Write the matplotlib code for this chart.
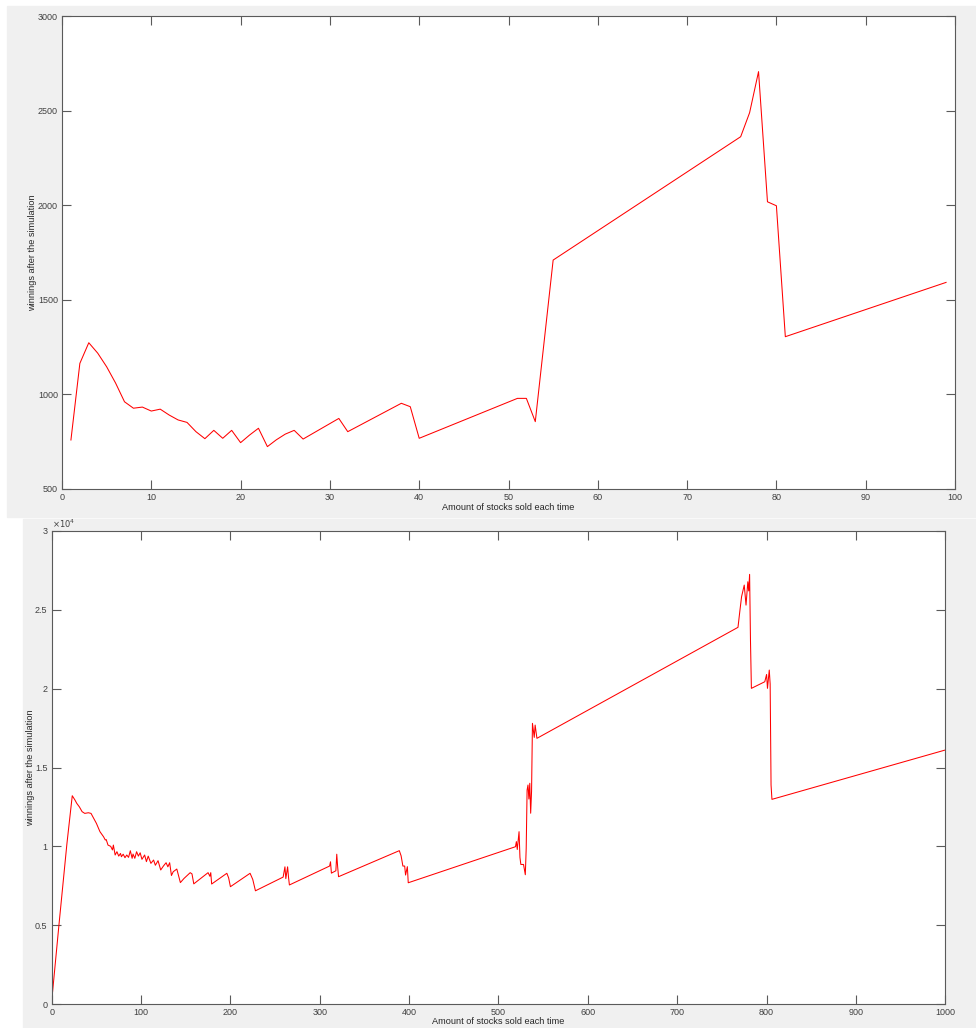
import matplotlib
matplotlib.use("Agg")
import matplotlib.pyplot as plt
from matplotlib.patches import Rectangle
from matplotlib.ticker import FuncFormatter

plt.rcParams['font.family'] = ['Liberation Sans', 'DejaVu Sans']

# winnings for 1..99 stocks sold each time (run 1)
sold_small = [1, 2, 3, 4, 5, 6, 7, 8, 9, 10, 11, 12, 13, 14, 15, 16, 17, 18, 19, 20,
              21, 22, 23, 24, 25, 26, 27, 31, 32, 38, 39, 40, 51, 52, 53, 55,
              76, 77, 78, 79, 80, 81, 99]
win_small = [759, 1164, 1273, 1218, 1146, 1060, 961, 927, 933, 912, 922, 891, 865, 852,
             803, 766, 810, 768, 810, 745, 785, 821, 724, 760, 790, 810, 764, 873, 803,
             953, 935, 768, 979, 979, 856, 1710, 2362, 2489, 2706, 2018, 1997, 1305, 1592]

# winnings for 1..1000 stocks sold each time (run 2)
sold_big = [1, 8, 17, 23, 26, 28, 31, 34, 37, 41, 44, 48, 50, 54, 58, 60, 61, 63, 66, 68,
            69, 71, 73, 75, 77, 78, 80, 82, 84, 86, 88, 90, 91, 93, 95, 97, 99, 101, 104,
            106, 108, 111, 114, 116, 119, 122, 125, 128, 130, 132, 134, 136, 140, 144,
            148, 155, 157, 159, 175, 177, 178, 179, 196, 198, 200, 222, 225, 228, 259,
            261, 262, 264, 265, 266, 311, 312, 313, 318, 319, 320, 321, 389, 391, 393,
            395, 396, 398, 399, 519, 520, 521, 523, 524, 525, 528, 530, 531, 532, 533,
            534, 535, 536, 537, 538, 540, 541, 543, 768, 770, 772, 775, 777, 779, 780,
            781, 782, 783, 798, 800, 801, 803, 804, 805, 806, 1000]
win_big = [780, 4950, 10150, 13210, 12940, 12730, 12500, 12200, 12090, 12130, 12090,
           11670, 11460, 10930, 10610, 10400, 10430, 10080, 10000, 9770, 10080, 9450,
           9660, 9380, 9550, 9340, 9500, 9280, 9450, 9300, 9720, 9240, 9510, 9240, 9660,
           9380, 9590, 9175, 9450, 9030, 9380, 8920, 9130, 8800, 9090, 8500, 8750, 8960,
           8700, 8960, 8150, 8390, 8560, 7700, 7960, 8330, 8250, 7620, 8330, 8100, 8330,
           7610, 8290, 8000, 7440, 8290, 7900, 7180, 8050, 8700, 7950, 8700, 8050, 7550,
           8750, 9020, 8300, 8450, 9500, 8700, 8075, 9725, 9400, 8750, 8750, 8180, 8710,
           7690, 9976, 10300, 9800, 10930, 9300, 8850, 8850, 8200, 9870, 13570, 13890,
           13000, 14000, 12100, 13500, 17800, 16910, 17690, 16850, 23890, 24880, 25830,
           26570, 25300, 26780, 26200, 27250, 23000, 20020, 20440, 20900, 20020, 21180,
           20300, 13890, 12980, 16110]

W, H = 976, 1028
fig = plt.figure(figsize=(W / 100, H / 100), dpi=100, facecolor='white')

# grey window backgrounds
fig.patches.append(Rectangle((7 / W, 1 - 517 / H), 1 - 7 / W, 511 / H,
                             transform=fig.transFigure, color='#f0f0f0', zorder=-1))
fig.patches.append(Rectangle((23 / W, 0), 1 - 23 / W, 1 - 519 / H,
                             transform=fig.transFigure, color='#f0f0f0', zorder=-1))

ax1 = fig.add_axes([62 / W, 1 - 489 / H, 893 / W, 473 / H])
ax2 = fig.add_axes([51.7 / W, 1 - 1004 / H, 893.6 / W, 473 / H])

ax1.plot(sold_small, win_small, color='#ff0000', lw=0.75)
ax1.set_xlim(0, 100)
ax1.set_ylim(500, 3000)
ax1.set_xticks(range(0, 101, 10))
ax1.set_yticks(range(500, 3001, 500))

ax2.plot(sold_big, win_big, color='#ff0000', lw=0.75)
ax2.set_xlim(0, 1000)
ax2.set_ylim(0, 30000)
ax2.set_xticks(range(0, 1001, 100))
ax2.set_yticks(range(0, 30001, 5000))
ax2.yaxis.set_major_formatter(FuncFormatter(lambda v, p: '%g' % (v / 1e4)))
ax2.text(0.0, 1.003, r'$\times10^{4}$', transform=ax2.transAxes, fontsize=6,
         color='#404040', ha='left', va='bottom')

for ax, ylab_x, xlab_y in [(ax1, -0.0325, -0.040), (ax2, -0.0235, -0.038)]:
    ax.set_facecolor('white')
    for s in ax.spines.values():
        s.set_color('#5a5a5a')
        s.set_linewidth(0.8)
    ax.tick_params(direction='in', top=True, right=True, length=6.5, width=0.8,
                   color='#5a5a5a', labelcolor='#404040', labelsize=6.5, pad=3)
    ax.set_xlabel('Amount of stocks sold each time', fontsize=6.6, color='#262626')
    ax.set_ylabel('winnings after the simulation', fontsize=6.6, color='#262626')
    ax.xaxis.set_label_coords(0.5, xlab_y)
    ax.xaxis.label.set_va('center')
    ax.yaxis.set_label_coords(ylab_x, 0.5)
    ax.yaxis.label.set_va('center')

fig.savefig('out.png', dpi=100, facecolor=fig.get_facecolor())
